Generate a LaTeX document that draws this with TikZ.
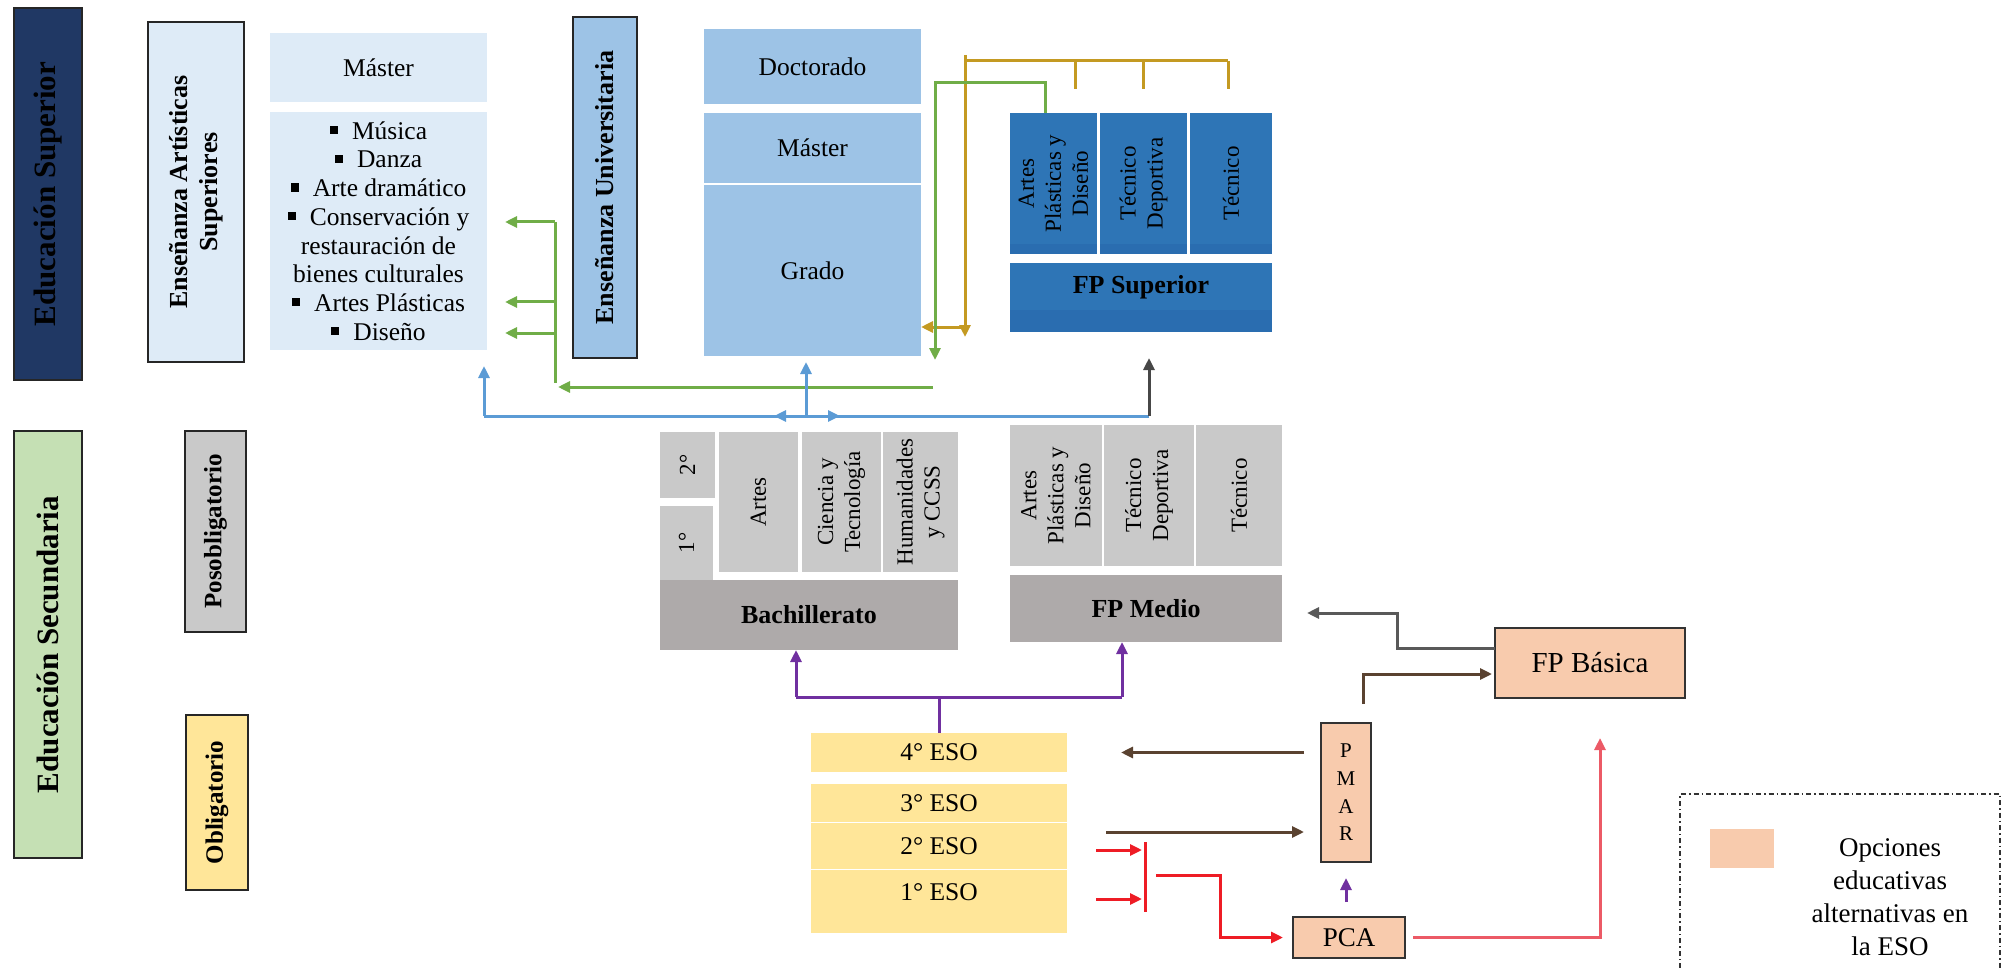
\documentclass[tikz,border=0pt]{standalone}
\usepackage{fontspec}
\setmainfont{Liberation Serif}
\usetikzlibrary{arrows.meta}
\definecolor{ESnavy}{HTML}{203864}
\definecolor{ESgreen}{HTML}{C5E0B4}
\definecolor{ESpale}{HTML}{DEEBF7}
\definecolor{ESsky}{HTML}{9DC3E6}
\definecolor{ESblue}{HTML}{2E75B6}
\definecolor{ESbluedk}{HTML}{2A6DB0}
\definecolor{ESgrey}{HTML}{C9C9C9}
\definecolor{ESgreyd}{HTML}{AEAAAA}
\definecolor{ESyellow}{HTML}{FFE699}
\definecolor{ESorange}{HTML}{F8CBAD}
\definecolor{LNgreen}{HTML}{70AD47}
\definecolor{LNblue}{HTML}{5B9BD5}
\definecolor{LNgold}{HTML}{C49A22}
\definecolor{LNpurple}{HTML}{7030A0}
\definecolor{LNbrown}{HTML}{5A4230}
\definecolor{LNgrey}{HTML}{595959}
\definecolor{LNred}{HTML}{EE1C25}
\definecolor{LNpink}{HTML}{EC5A66}
\newcommand{\blt}{\rule[0.2em]{0.32em}{0.32em}\hspace{0.55em}}

\begin{document}
\begin{tikzpicture}[x=1pt,y=-1pt,
    box/.style={anchor=north west,inner sep=0pt,outer sep=0pt,align=center,
                font=\fontsize{25.5}{28.7}\selectfont},
    sect/.style={box,draw=black!85,line width=1.5pt},
    alt/.style={box,draw=black!80,line width=1.5pt,fill=ESorange},
    wh/.style 2 args={minimum width=#1pt,minimum height=#2pt},
    vtxt/.style={rotate=90,inner sep=0pt,align=center,font=\fontsize{23}{27}\selectfont},
    hd/.style={font=\fontsize{26}{30}\selectfont\bfseries},
    sub/.style={font=\fontsize{25}{28}\selectfont\bfseries},
    big/.style={font=\fontsize{31}{35}\selectfont\bfseries},
    ln/.style={line width=3pt},
    arr/.style={-{Triangle[length=12pt,width=11pt]}}]
  \useasboundingbox (0,0) rectangle (2002,968);
  % left column
  \node[sect,fill=ESnavy,wh={68}{372}] (edsup) at (14,8) {};
  \node[vtxt,big] (edsup-t) at (edsup) {Educación Superior};
  \node[sect,fill=ESgreen,wh={68}{427}] (edsec) at (14,431) {};
  \node[vtxt,big] (edsec-t) at (edsec) {Educación Secundaria};
  \node[sect,fill=ESpale,wh={96}{340}] (ensart) at (148,22) {};
  \node[vtxt,hd] (ensart-t) at (ensart) {Enseñanza Artísticas\\Superiores};
  \node[sect,fill=ESgrey,wh={61}{201}] (posob) at (185,431) {};
  \node[vtxt,sub] (posob-t) at (posob) {Posobligatorio};
  \node[sect,fill=ESyellow,wh={62}{175}] (oblig) at (186,715) {};
  \node[vtxt,sub] (oblig-t) at (oblig) {Obligatorio};
  % artisticas
  \node[box,fill=ESpale,wh={217}{69}] (mastA) at (270,33) {Máster};
  \node[box,fill=ESpale,wh={217}{238}] (listA) at (270,112)
    {\blt Música\\ \blt Danza\\ \blt Arte dramático\\ \blt Conservación y\\
     restauración de\\ bienes culturales\\ \blt Artes Plásticas\\ \blt Diseño};
  % universidad
  \node[sect,fill=ESsky,wh={64}{341}] (ensuniv) at (573,17) {};
  \node[vtxt,hd] (ensuniv-t) at (ensuniv) {Enseñanza Universitaria};
  \node[box,fill=ESsky,wh={217}{75}] (doct) at (704,29) {Doctorado};
  \node[box,fill=ESsky,wh={217}{70}] (mastU) at (704,113) {Máster};
  \node[box,fill=ESsky,wh={217}{171}] (grado) at (704,185) {Grado};
  % FP superior
  \foreach \n/\x/\w/\t in {1/1010/87/{Artes\\Plásticas y\\Diseño},
                           2/1100/87/{Técnico\\Deportiva},3/1190/82/Técnico} {
    \node[box,fill=ESblue,wh={\w}{141}] (fps\n) at (\x,113) {};
    \fill[ESbluedk] ([yshift=10pt]fps\n.south west) rectangle (fps\n.south east);
    \node[vtxt] (fps\n-t) at (fps\n) {\t};
  }
  \node[box,fill=ESblue,wh={262}{69}] (fpsup) at (1010,263) {};
  \fill[ESbluedk] ([yshift=22pt]fpsup.south west) rectangle (fpsup.south east);
  \node[hd,inner sep=0pt] (fpsup-t) at ([yshift=10pt]fpsup.center) {FP Superior};
  % bachillerato
  \node[box,fill=ESgrey,wh={55}{66}] (b2) at (660,432) {};
  \node[vtxt] (b2-t) at (b2) {2°};
  \node[box,fill=ESgrey,wh={53}{74}] (b1) at (660,506) {};
  \node[vtxt] (b1-t) at (b1) {1°};
  \foreach \n/\x/\w/\t in {art/719/79/Artes,cie/802/79/{Ciencia y\\Tecnología},
                           hum/883/75/{Humanidades\\y CCSS}} {
    \node[box,fill=ESgrey,wh={\w}{140}] (b\n) at (\x,432) {};
    \node[vtxt] (b\n-t) at (b\n) {\t};
  }
  \node[box,fill=ESgreyd,wh={298}{70},hd] (bach) at (660,580) {Bachillerato};
  % FP medio
  \foreach \n/\x/\w/\t in {1/1010/92/{Artes\\Plásticas y\\Diseño},
                           2/1104/90/{Técnico\\Deportiva},3/1196/86/Técnico} {
    \node[box,fill=ESgrey,wh={\w}{141}] (fpm\n) at (\x,425) {};
    \node[vtxt] (fpm\n-t) at (fpm\n) {\t};
  }
  \node[box,fill=ESgreyd,wh={272}{67},hd] (fpmed) at (1010,575) {FP Medio};
  % ESO
  \foreach \n/\y/\h/\dy in {4/733/39/0,3/784/38/0,2/823/46/0,1/870/63/9} {
    \node[box,fill=ESyellow,wh={256}{\h}] (eso\n) at (811,\y) {};
    \node[inner sep=0pt,font=\fontsize{25.5}{28.7}\selectfont] (eso\n-t)
      at ([yshift=\dy pt]eso\n.center) {\n° ESO};
  }
  % alternativas
  \node[alt,wh={50}{139},font=\fontsize{21}{27.7}\selectfont] (pmar) at (1321,723) {P\\M\\A\\R};
  \node[alt,wh={112}{41},font=\fontsize{27}{30}\selectfont] (pca) at (1293,917) {PCA};
  \node[alt,wh={190}{70},font=\fontsize{29}{32}\selectfont] (fpbas) at (1495,628) {FP Básica};
  % leyenda
  \node[box,fill=ESorange,wh={64}{39}] (legsw) at (1710,829) {};
  \node[inner sep=0pt,align=center,font=\fontsize{27}{33}\selectfont] (legtx) at (1890,897)
    {Opciones\\educativas\\alternativas en\\la ESO};
  \coordinate (lg1) at (1680,968); \coordinate (lg2) at (2000,794); \coordinate (lg3) at (2000,968);
  \draw[black!80,line width=1.4pt,dash pattern=on 5pt off 3pt on 1.5pt off 3pt] (lg1) |- (lg2) -- (lg3);

  % gold
  \coordinate (y0) at (965,55); \coordinate (y1) at (965,61); \coordinate (y2) at (1228,61);
  \coordinate (y3) at (965,337); \coordinate (y4) at (965,327);
  \draw[ln,LNgold] (y1) -- (y2);
  \foreach \x in {1075,1143,1228}
    \draw[ln,LNgold] (\x,61) -- (\x,89);
  \draw[ln,LNgold,arr] (y0) -- (y3);
  \draw[ln,LNgold,arr] (y4) -- (y4 -| grado.east);
  % green
  \coordinate (g1) at (935,83); \coordinate (g2) at (935,360);
  \coordinate (g3) at (933,387); \coordinate (g4) at (558,387);
  \coordinate (g5) at (555,222); \coordinate (g6) at (555,383);
  \draw[ln,LNgreen,arr] ([xshift=-8pt]fps1.north) |- (g1) -- (g2);
  \draw[ln,LNgreen,arr] (g3) -- (g4);
  \draw[ln,LNgreen] (g5) -- (g6);
  \foreach \y [count=\i] in {222,302,333} {
    \coordinate (ga\i) at (555,\y);
    \draw[ln,LNgreen,arr,shorten >=18pt] (ga\i) -- (ga\i -| listA.east);
  }
  % blue
  \coordinate (bl) at (484,416); \coordinate (bc) at (806,416); \coordinate (br) at (1149,416);
  \draw[ln,LNblue] (bl) -- (br);
  \draw[ln,LNblue,arr,shorten >=16pt] (bl) -- (bl |- listA.south);
  \draw[ln,LNblue,arr,shorten >=6pt] (bc) -- (bc |- grado.south);
  \draw[ln,LNblue,arr] (bc) -- ++(-32,0);
  \draw[ln,LNblue,arr] (bc) -- ++(34,0);
  \draw[ln,LNgrey!80!black,arr,shorten >=26pt] (br) -- (br |- fpsup.south);
  % purple
  \coordinate (pl) at (796,697); \coordinate (pr) at (1122,697);
  \draw[ln,LNpurple] (pl) -- (pr);
  \draw[ln,LNpurple] (eso4.north) -- (eso4.north |- pl);
  \draw[ln,LNpurple,arr] (pl) -- (pl |- bach.south);
  \draw[ln,LNpurple,arr] (pr) -- (pr |- fpmed.south);
  \draw[ln,LNpurple,arr,shorten <=15pt,shorten >=16pt] (pca.north -| pmar.south) -- (pmar.south);
  % brown
  \coordinate (b5) at (1106,832); \coordinate (b6) at (1363,704); \coordinate (b7) at (1495,674);
  \draw[ln,LNbrown,arr,shorten <=17pt,shorten >=54pt] (pmar.west |- eso4) -- (eso4.east);
  \draw[ln,LNbrown,arr,shorten >=17pt] (b5) -- (b5 -| pmar.west);
  \draw[ln,LNbrown,arr,shorten >=3pt] (b6) |- (b7);
  \coordinate (f1) at (1397,648); \coordinate (f2) at (1397,613);
  \draw[ln,LNgrey,arr,shorten >=25pt] (f1 -| fpbas.west) -- (f1) -- (f2) -- (f2 -| fpmed.east);
  % red
  \coordinate (ra1) at (1096,850); \coordinate (ra2) at (1096,899);
  \coordinate (rt) at (1145,842); \coordinate (rb) at (1145,912);
  \coordinate (r1) at (1156,875); \coordinate (r2) at (1220,875); \coordinate (r3) at (1600,935);
  \draw[ln,LNred] (rt) -- (rb);
  \draw[ln,LNred,arr,shorten >=3pt] (ra1) -- (ra1 -| rt);
  \draw[ln,LNred,arr,shorten >=3pt] (ra2) -- (ra2 -| rt);
  \draw[ln,LNred,arr,shorten >=10pt] (r1) -- (r2) |- (pca.west);
  \draw[ln,LNpink,arr,shorten <=8pt,shorten >=40pt] (pca.east) -- (r3 |- pca.east) -- (r3 |- fpbas.south);
\end{tikzpicture}
\end{document}
